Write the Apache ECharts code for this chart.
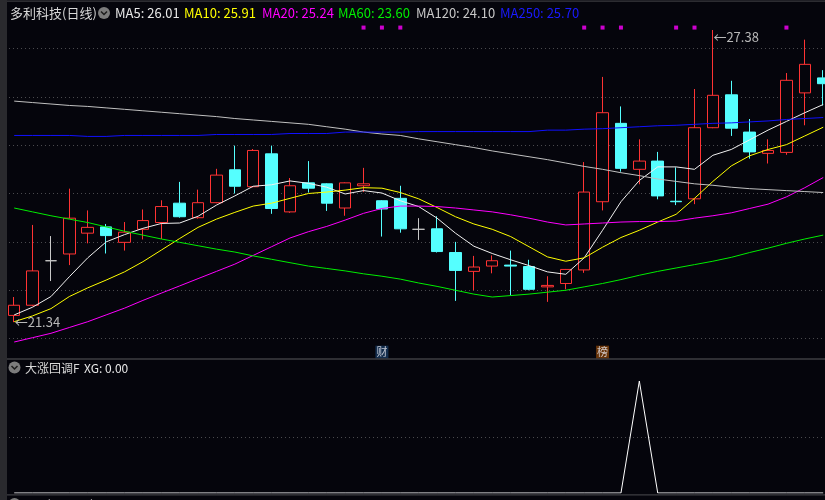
<!DOCTYPE html>
<html>
<head>
<meta charset="utf-8">
<script src="https://cdn.jsdelivr.net/npm/echarts@6/dist/echarts.min.js"></script>
<style>
html,body{margin:0;padding:0;background:#05050c;overflow:hidden;width:825px;height:500px;}
#chart{width:840px;height:500px;}
</style>
</head>
<body>
<div id="chart"></div>
<script>
// ---- data ----
const categories = ['01','02','03','04','05','06','07','08','09','10','11','12','13','14','15','16','17','18','19','20','21','22','23','24','25','26','27','28','29','30','31','32','33','34','35','36','37','38','39','40','41','42','43','44','45'];
const openP  = [21.48,21.69,22.61,22.75,23.18,23.31,22.99,23.26,23.40,23.80,23.50,23.81,24.49,24.14,24.82,23.62,24.22,24.20,23.70,24.16,23.85,23.90,23.26,23.27,22.78,22.39,22.50,22.52,22.49,22.07,22.14,22.42,23.83,25.45,24.50,24.67,23.84,23.89,25.36,26.04,25.27,24.83,24.85,26.08,26.39];
const closeP = [21.69,22.40,22.61,23.49,23.30,23.13,23.20,23.44,23.73,23.52,23.81,24.38,24.15,24.89,23.69,24.16,24.11,23.80,24.22,24.20,23.68,23.27,23.26,22.80,22.41,22.48,22.61,22.50,22.02,22.10,22.43,24.03,25.67,24.52,24.67,23.95,23.83,25.36,26.03,25.35,24.86,24.89,26.34,26.67,26.27];
const lowP   = [21.34,21.67,22.19,22.52,22.97,22.76,22.82,23.05,23.06,23.50,23.48,23.80,24.00,24.13,23.58,23.60,24.02,23.64,23.54,24.03,23.11,23.19,23.04,22.78,21.78,22.00,22.35,21.89,22.00,21.76,22.02,22.36,23.65,24.45,24.19,23.88,23.76,23.78,25.35,25.19,24.72,24.62,24.80,25.41,25.82];
const highP  = [21.86,23.35,23.12,24.10,23.65,23.37,23.41,23.67,23.86,24.24,24.08,24.51,24.99,24.92,24.99,24.32,24.67,24.21,24.23,24.53,23.86,24.16,23.49,23.53,23.00,22.71,22.72,22.82,22.63,22.29,22.44,24.65,26.41,25.80,25.12,24.86,24.54,26.16,27.38,26.33,25.54,25.12,26.49,27.18,26.55];
const ma5   = [21.49,21.65,21.87,22.28,22.67,23.00,23.15,23.28,23.38,23.39,23.53,23.76,23.95,24.15,24.18,24.26,24.21,24.13,23.99,24.06,24.01,23.85,23.73,23.49,23.18,22.91,22.76,22.63,22.51,22.38,22.33,22.67,23.24,23.83,24.27,24.55,24.55,24.50,24.79,24.91,25.11,25.31,25.49,25.67,25.84];
const ma10  = [21.35,21.47,21.62,21.87,22.05,22.21,22.38,22.59,22.83,23.07,23.30,23.47,23.61,23.74,23.80,23.90,24.00,24.03,24.07,24.12,24.11,24.02,23.89,23.71,23.52,23.37,23.26,23.11,22.90,22.69,22.60,22.67,22.89,23.09,23.24,23.41,23.57,23.90,24.25,24.57,24.78,24.91,25.01,25.19,25.37];
const ma20  = [20.93,21.02,21.11,21.23,21.35,21.49,21.63,21.79,21.94,22.09,22.24,22.39,22.54,22.72,22.90,23.08,23.21,23.32,23.45,23.59,23.69,23.74,23.74,23.73,23.70,23.66,23.62,23.56,23.49,23.41,23.35,23.37,23.39,23.41,23.42,23.42,23.43,23.49,23.54,23.60,23.69,23.78,23.93,24.12,24.33];
const ma60  = [23.70,23.62,23.54,23.47,23.40,23.31,23.22,23.14,23.06,22.99,22.92,22.85,22.79,22.71,22.64,22.57,22.50,22.45,22.40,22.34,22.29,22.23,22.15,22.08,22.00,21.92,21.86,21.89,21.92,21.96,22.00,22.07,22.14,22.22,22.31,22.39,22.46,22.53,22.60,22.68,22.78,22.87,22.97,23.06,23.14];
const ma120 = [25.91,25.88,25.85,25.82,25.80,25.77,25.74,25.71,25.68,25.65,25.62,25.59,25.55,25.52,25.49,25.46,25.43,25.38,25.33,25.27,25.23,25.20,25.13,25.07,25.01,24.95,24.88,24.82,24.76,24.70,24.63,24.56,24.50,24.43,24.37,24.30,24.25,24.20,24.17,24.13,24.10,24.08,24.06,24.04,24.02];
const ma250 = [25.20,25.20,25.20,25.20,25.18,25.18,25.20,25.20,25.20,25.20,25.20,25.22,25.22,25.22,25.22,25.24,25.24,25.24,25.27,25.27,25.27,25.27,25.28,25.28,25.28,25.28,25.28,25.28,25.28,25.31,25.31,25.33,25.34,25.36,25.38,25.40,25.41,25.43,25.45,25.46,25.48,25.50,25.53,25.55,25.57];
const xgValues = [0,0,0,0,0,0,0,0,0,0,0,0,0,0,0,0,0,0,0,0,0,0,0,0,0,0,0,0,0,0,0,0,0,0,1,0,0,0,0,0,0,0,0,0,0];
const signalIdx = [19,20,21,31,32,33,36,37,42];
const signalLevel = 27.43;
const eventIdx = [20,32];
const eventText = ['财','榜'];
const eventLevel = 20.72;
const maxIdx = 38, maxVal = 27.38;
const minIdx = 0, minVal = 21.34;
const yTicks = [20,21,22,23,24,25,26,27,28];
const headerItems = [
  {text:'MA5: 26.01', color:'#e8e8e8'},
  {text:'MA10: 25.91', color:'#ffff00'},
  {text:'MA20: 25.24', color:'#ff00ff'},
  {text:'MA60: 23.60', color:'#00ee00'},
  {text:'MA120: 24.10', color:'#c8c8c8'},
  {text:'MA250: 25.70', color:'#1a1aff'}
];

// ---- styling ----
const BG = '#05050c';
const UP = '#ff3333';
const DOWN = '#55ffff';
const FONT = '"Noto Sans CJK SC","Noto Sans",sans-serif';
const headerX = [115,184,262,338,416,500];

const kData = categories.map((_, i) => [openP[i], closeP[i], lowP[i], highP[i]]);
const eventColors = ['#17375e','#7f3f08'];

function maSeries(name, data, color) {
  return {name, type:'line', data, xAxisIndex:0, yAxisIndex:0, showSymbol:false, symbol:'none',
    lineStyle:{color, width:1}, itemStyle:{color}, silent:true, z:3};
}

const graphics = [
  {type:'rect', shape:{x:0,y:0,width:7,height:500}, style:{fill:'#2a2a2e'}, z:200},
  {type:'rect', shape:{x:7,y:0.5,width:833,height:1.2}, style:{fill:'#3a3a3e'}, z:200},
  {type:'rect', shape:{x:7,y:358.3,width:833,height:1.4}, style:{fill:'#3e3e42'}, z:200},
  {type:'rect', shape:{x:7,y:494.3,width:833,height:1.2}, style:{fill:'#3e3e42'}, z:200},
  {type:'text', x:10, y:13, style:{text:'多利科技(日线)', fill:'#d8d8d8', font:'13px '+FONT, verticalAlign:'middle'}, z:200},
  {type:'circle', shape:{cx:104, cy:13, r:6}, style:{fill:'#7c7c7c'}, z:200},
  {type:'polyline', shape:{points:[[101,11.5],[104,14.5],[107,11.5]]}, style:{stroke:'#1c1c1c', lineWidth:1.5, fill:null}, z:201},
  {type:'circle', shape:{cx:14.5, cy:367.5, r:6}, style:{fill:'#7c7c7c'}, z:200},
  {type:'polyline', shape:{points:[[11.5,366],[14.5,369],[17.5,366]]}, style:{stroke:'#1c1c1c', lineWidth:1.5, fill:null}, z:201},
  {type:'text', x:25, y:368, style:{text:'大涨回调F', fill:'#d8d8d8', font:'12px '+FONT, verticalAlign:'middle'}, z:200},
  {type:'text', x:84, y:368, style:{text:'XG: 0.00', fill:'#e8e8e8', font:'12px '+FONT, verticalAlign:'middle'}, z:200},
  {type:'circle', shape:{cx:14.5, cy:504, r:6}, style:{fill:'#7c7c7c'}, z:200},
  {type:'text', x:24, y:498, style:{text:'VOL(5,10,20)', fill:'#d8d8d8', font:'12px '+FONT, verticalAlign:'top'}, z:200},
  {type:'text', x:116, y:498, style:{text:'VOL: 5.97', fill:'#e8e8e8', font:'12px '+FONT, verticalAlign:'top'}, z:200},
  {type:'text', x:171, y:498, style:{text:'MA5: 7.51', fill:'#ffff00', font:'12px '+FONT, verticalAlign:'top'}, z:200},
  {type:'text', x:232, y:498, style:{text:'MA10: 6.22', fill:'#ff00ff', font:'12px '+FONT, verticalAlign:'top'}, z:200}
];
headerItems.forEach((h, i) => {
  graphics.push({type:'text', x:headerX[i], y:13, style:{text:h.text, fill:h.color, font:'13px '+FONT, verticalAlign:'middle'}, z:200});
});

const splitStyle = {show:true, showMinLine:false, showMaxLine:false, lineStyle:{color:'#4a4a4e', width:1, type:[1,3]}};

const option = {
  backgroundColor: BG,
  animation: false,
  grid: [
    {left:5, top:-5, width:827.4, height:392},
    {left:5, top:381, width:827.4, height:112}
  ],
  xAxis: [
    {type:'category', data:categories, gridIndex:0, boundaryGap:true, show:false},
    {type:'category', data:categories, gridIndex:1, boundaryGap:true, show:false}
  ],
  yAxis: [
    {type:'value', gridIndex:0, min:yTicks[0], max:yTicks[yTicks.length-1], interval:1, scale:false,
      axisLine:{show:false}, axisTick:{show:false}, axisLabel:{show:false}, splitLine:splitStyle},
    {type:'value', gridIndex:1, min:0, max:1, interval:0.5,
      axisLine:{show:false}, axisTick:{show:false}, axisLabel:{show:false}, splitLine:splitStyle}
  ],
  series: [
    {name:'K', type:'candlestick', xAxisIndex:0, yAxisIndex:0, data:kData, barWidth:12, z:2,
      itemStyle:{color:BG, color0:DOWN, borderColor:UP, borderColor0:DOWN, borderColorDoji:'#c8c8c8', borderWidth:1},
      markPoint:{
        symbol:'circle', symbolSize:1, itemStyle:{color:'rgba(0,0,0,0)'},
        data:[
          {coord:[maxIdx, maxVal], value:maxVal,
            label:{show:true, position:'right', distance:0, offset:[0,7], formatter:'←' + maxVal.toFixed(2), color:'#b8b8b8', fontSize:13, fontFamily:FONT}},
          {coord:[minIdx, minVal], value:minVal,
            label:{show:true, position:'right', distance:0, offset:[0,0], formatter:'←' + minVal.toFixed(2), color:'#b8b8b8', fontSize:13, fontFamily:FONT}}
        ]
      }
    },
    maSeries('MA5', ma5, '#f0f0f0'),
    maSeries('MA10', ma10, '#ffff00'),
    maSeries('MA20', ma20, '#ff00ff'),
    maSeries('MA60', ma60, '#00ee00'),
    maSeries('MA120', ma120, '#c0c0c0'),
    maSeries('MA250', ma250, '#1010ff'),
    {name:'signal', type:'scatter', xAxisIndex:0, yAxisIndex:0, symbol:'rect', symbolSize:4,
      data: signalIdx.map(i => [i, signalLevel]), itemStyle:{color:'#ff00ff'}, z:4},
    {name:'event', type:'scatter', xAxisIndex:0, yAxisIndex:0, symbol:'rect', symbolSize:13, z:4,
      data: eventIdx.map((i, k) => ({value:[i, eventLevel], itemStyle:{color:eventColors[k]},
        label:{show:true, position:'inside', formatter:eventText[k], color:'#e8e8f0', fontSize:11, fontFamily:FONT}}))},
    {name:'XG', type:'line', xAxisIndex:1, yAxisIndex:1, data:xgValues, showSymbol:false, symbol:'none',
      lineStyle:{color:'#ffffff', width:1}, z:3}
  ],
  graphic: graphics
};

const chart = echarts.init(document.getElementById('chart'), null, {renderer:'canvas'});
chart.setOption(option);
</script>
</body>
</html>
